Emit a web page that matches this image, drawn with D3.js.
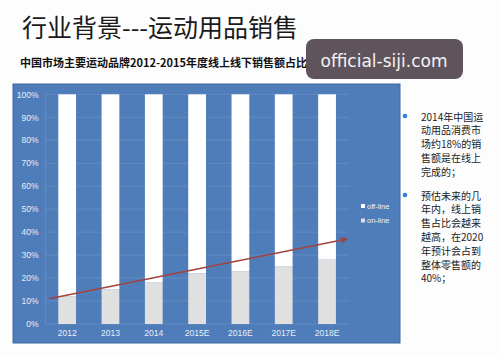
<!DOCTYPE html>
<html><head><meta charset="utf-8">
<script src="https://cdn.jsdelivr.net/npm/d3@7/dist/d3.min.js"></script>
<style>body{margin:0;background:#fdfdfd;}svg{display:block;}</style>
</head><body>
<script>
const years = ["2012","2013","2014","2015E","2016E","2017E","2018E"];
const online = [12, 15, 18, 22, 23, 25, 28];
const offline = online.map(v => 100 - v);
const yTicks = [0,10,20,30,40,50,60,70,80,90,100];
const trend = [11, 37];
const seriesNames = ["off-line","on-line"];
const bullets = [
  ["2014年中国运","动用品消费市","场约18%的销","售额是在线上","完成的；"],
  ["预估未来的几","年内，线上销","售占比会越来","越高，在2020","年预计会占到","整体零售额的","40%；"]
];

const W = 500, H = 355;
const svg = d3.select("body").append("svg").attr("width", W).attr("height", H);
svg.append("rect").attr("width", W).attr("height", H).attr("fill", "#fdfdfd");

svg.append("text").attr("x", 22).attr("y", 37)
  .attr("font-family", "Noto Sans CJK SC").attr("font-size", 25).attr("font-weight", 400)
  .attr("fill", "#1a1a1a").text("行业背景---运动用品销售");
svg.append("text").attr("x", 20).attr("y", 67)
  .attr("font-family", "Noto Sans CJK SC").attr("font-size", 11).attr("font-weight", 700)
  .attr("fill", "#111").text("中国市场主要运动品牌2012-2015年度线上线下销售额占比");

// panel
svg.append("rect").attr("x", 13).attr("y", 84).attr("width", 387).attr("height", 259)
  .attr("fill", "#4e7dba").attr("stroke", "#3d6aa3").attr("stroke-width", 1);

const x = d3.scaleBand().domain(years).range([45.5, 348.7]).paddingInner(0.59).paddingOuter(0.295);
const y = d3.scaleLinear().domain([0, 100]).range([324, 94.3]);

const grid = svg.append("g");
grid.selectAll("line").data(yTicks).join("line")
  .attr("x1", 45.5).attr("x2", 348.7).attr("y1", d => y(d)).attr("y2", d => y(d))
  .attr("stroke", "#6a8fc2").attr("stroke-width", 0.8);
grid.append("line").attr("x1", 45.5).attr("x2", 45.5).attr("y1", y(0)).attr("y2", y(100))
  .attr("stroke", "#6a8fc2").attr("stroke-width", 0.8);

const yAxis = d3.axisLeft(y).tickValues(yTicks).tickFormat(d => d + "%").tickSize(0).tickPadding(7);
const ya = svg.append("g").attr("transform", "translate(45.5,0)").call(yAxis);
ya.select(".domain").remove();
ya.selectAll("text").attr("fill", "#e8eef7").attr("font-family", "Liberation Sans, Arial").attr("font-size", 8.5);

const xAxis = d3.axisBottom(x).tickSize(0).tickPadding(6);
const xa = svg.append("g").attr("transform", "translate(0,324)").call(xAxis);
xa.select(".domain").remove();
xa.selectAll("text").attr("fill", "#e8eef7").attr("font-family", "Liberation Sans, Arial").attr("font-size", 8.5);

const bars = svg.append("g");
bars.selectAll(".on").data(years).join("rect").attr("class", "on")
  .attr("x", d => x(d)).attr("width", x.bandwidth())
  .attr("y", (d, i) => y(online[i])).attr("height", (d, i) => y(0) - y(online[i]))
  .attr("fill", "#e0e0e0");
bars.selectAll(".off").data(years).join("rect").attr("class", "off")
  .attr("x", d => x(d)).attr("width", x.bandwidth())
  .attr("y", (d, i) => y(online[i] + offline[i])).attr("height", (d, i) => y(online[i]) - y(online[i] + offline[i]))
  .attr("fill", "#ffffff");

// trend arrow
svg.append("defs").append("marker").attr("id", "ah").attr("viewBox", "0 0 10 10")
  .attr("refX", 9).attr("refY", 5).attr("markerWidth", 5).attr("markerHeight", 5).attr("orient", "auto")
  .append("path").attr("d", "M0,0 L10,5 L0,10 L3,5 Z").attr("fill", "#a3423e");
svg.append("line").attr("x1", 49).attr("y1", y(trend[0])).attr("x2", 347).attr("y2", y(trend[1]))
  .attr("stroke", "#a3423e").attr("stroke-width", 1.5).attr("marker-end", "url(#ah)");

// legend
const lg = svg.append("g");
const lcol = ["#ffffff", "#e0e0e0"];
seriesNames.forEach((n, i) => {
  lg.append("rect").attr("x", 361).attr("y", 204 + i * 14.5).attr("width", 4).attr("height", 4).attr("fill", lcol[i]);
  lg.append("text").attr("x", 367).attr("y", 208.5 + i * 14.5).attr("font-family", "Liberation Sans, Arial")
    .attr("font-size", 7.5).attr("fill", "#eef2f8").text(n);
});

// watermark
svg.append("rect").attr("x", 306).attr("y", 39).attr("width", 157).attr("height", 40).attr("rx", 8)
  .attr("fill", "#5f535c");
svg.append("text").attr("x", 384).attr("y", 66.5).attr("text-anchor", "middle")
  .attr("font-family", "DejaVu Sans").attr("font-size", 17).attr("fill", "#f4f4f4").text("official-siji.com");

// right text
const tb = svg.append("g");
const starts = [118, 197];
bullets.forEach((lines, bi) => {
  tb.append("circle").attr("cx", 405).attr("cy", starts[bi] - 2).attr("r", 2.3).attr("fill", "#3b7dd8");
  lines.forEach((l, li) => {
    tb.append("text").attr("x", 421).attr("y", starts[bi] + 2.5 + li * 13.8)
      .attr("font-family", "Noto Sans CJK SC").attr("font-size", 10).attr("fill", "#1a1a1a").text(l);
  });
});
</script>
</body></html>
